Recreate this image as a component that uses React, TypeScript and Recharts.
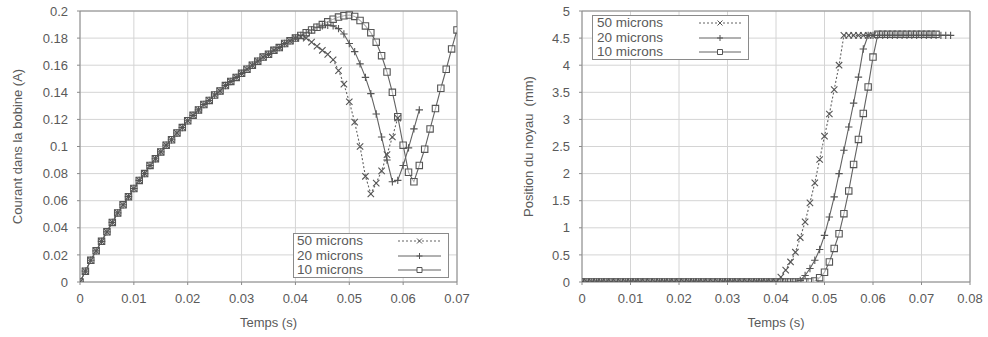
import React from 'react';
import { LineChart, Line, XAxis, YAxis, CartesianGrid, Legend, ReferenceLine } from 'recharts';

// Time grid (s)
const temps = [
  0, 0.001, 0.002, 0.003, 0.004, 0.005, 0.006, 0.007, 0.008, 0.009,
  0.01, 0.011, 0.012, 0.013, 0.014, 0.015, 0.016, 0.017, 0.018, 0.019,
  0.02, 0.021, 0.022, 0.023, 0.024, 0.025, 0.026, 0.027, 0.028, 0.029,
  0.03, 0.031, 0.032, 0.033, 0.034, 0.035, 0.036, 0.037, 0.038, 0.039,
  0.04, 0.041, 0.042, 0.043, 0.044, 0.045, 0.046, 0.047, 0.048, 0.049,
  0.05, 0.051, 0.052, 0.053, 0.054, 0.055, 0.056, 0.057, 0.058, 0.059,
  0.06, 0.061, 0.062, 0.063, 0.064, 0.065, 0.066, 0.067, 0.068, 0.069,
  0.07, 0.071, 0.072, 0.073, 0.074, 0.075, 0.076,
];

// Courant dans la bobine (A)
const courant50 = [
  0, 0.008, 0.016, 0.023, 0.030, 0.037, 0.044, 0.051, 0.057, 0.063,
  0.069, 0.075, 0.080, 0.086, 0.091, 0.096, 0.101, 0.105, 0.110, 0.114,
  0.119, 0.123, 0.127, 0.131, 0.134, 0.138, 0.141, 0.145, 0.148, 0.151,
  0.154, 0.157, 0.160, 0.163, 0.166, 0.168, 0.171, 0.173, 0.176, 0.178,
  0.180, 0.181, 0.180, 0.177, 0.174, 0.171, 0.168, 0.164, 0.156, 0.146,
  0.133, 0.118, 0.100, 0.078, 0.065, 0.073, 0.082, 0.094, 0.107, 0.121,
];
const courant20 = [
  0, 0.008, 0.016, 0.023, 0.030, 0.037, 0.044, 0.051, 0.057, 0.063,
  0.069, 0.075, 0.080, 0.086, 0.091, 0.096, 0.101, 0.105, 0.110, 0.114,
  0.119, 0.123, 0.127, 0.131, 0.134, 0.138, 0.141, 0.145, 0.148, 0.151,
  0.154, 0.157, 0.160, 0.163, 0.166, 0.168, 0.171, 0.173, 0.176, 0.178,
  0.180, 0.182, 0.184, 0.186, 0.188, 0.189, 0.1895, 0.189, 0.187, 0.183,
  0.176, 0.170, 0.161, 0.151, 0.139, 0.124, 0.107, 0.090, 0.074, 0.075,
  0.086, 0.099, 0.113, 0.127,
];
const courant10 = [
  0, 0.008, 0.016, 0.023, 0.030, 0.037, 0.044, 0.051, 0.057, 0.063,
  0.069, 0.075, 0.080, 0.086, 0.091, 0.096, 0.101, 0.105, 0.110, 0.114,
  0.119, 0.123, 0.127, 0.131, 0.134, 0.138, 0.141, 0.145, 0.148, 0.151,
  0.154, 0.157, 0.160, 0.163, 0.166, 0.168, 0.171, 0.173, 0.176, 0.178,
  0.180, 0.182, 0.184, 0.186, 0.188, 0.190, 0.192, 0.194, 0.1955, 0.1965,
  0.197, 0.196, 0.193, 0.189, 0.184, 0.177, 0.167, 0.155, 0.140, 0.122,
  0.101, 0.081, 0.074, 0.086, 0.098, 0.113, 0.128, 0.143, 0.157, 0.172,
  0.186,
];

// Position du noyau (mm)
const position50 = [
  0, 0, 0, 0, 0, 0, 0, 0, 0, 0,
  0, 0, 0, 0, 0, 0, 0, 0, 0, 0,
  0, 0, 0, 0, 0, 0, 0, 0, 0, 0,
  0, 0, 0, 0, 0, 0, 0, 0, 0, 0,
  0, 0.09, 0.22, 0.37, 0.55, 0.82, 1.11, 1.46, 1.83, 2.26,
  2.69, 3.10, 3.55, 4.00, 4.55, 4.55, 4.55, 4.55, 4.55, 4.55,
  4.55,
];
const position20 = [
  0, 0, 0, 0, 0, 0, 0, 0, 0, 0,
  0, 0, 0, 0, 0, 0, 0, 0, 0, 0,
  0, 0, 0, 0, 0, 0, 0, 0, 0, 0,
  0, 0, 0, 0, 0, 0, 0, 0, 0, 0,
  0, 0, 0, 0, 0, 0.03, 0.12, 0.25, 0.40, 0.60,
  0.86, 1.20, 1.57, 2.00, 2.43, 2.86, 3.30, 3.78, 4.30, 4.55,
  4.55, 4.55, 4.55, 4.55, 4.55, 4.55, 4.55, 4.55, 4.55, 4.55,
  4.55, 4.55, 4.55, 4.55, 4.55, 4.55, 4.55,
];
const position10 = [
  0, 0, 0, 0, 0, 0, 0, 0, 0, 0,
  0, 0, 0, 0, 0, 0, 0, 0, 0, 0,
  0, 0, 0, 0, 0, 0, 0, 0, 0, 0,
  0, 0, 0, 0, 0, 0, 0, 0, 0, 0,
  0, 0, 0, 0, 0, 0, 0, 0, 0.02, 0.08,
  0.18, 0.37, 0.62, 0.89, 1.26, 1.68, 2.17, 2.63, 3.11, 3.60,
  4.15, 4.57, 4.57, 4.57, 4.57, 4.57, 4.57, 4.57, 4.57, 4.57,
  4.57, 4.57, 4.57, 4.57,
];

const seriesNames = ['50 microns', '20 microns', '10 microns'];
const courantXTicks = [0, 0.01, 0.02, 0.03, 0.04, 0.05, 0.06, 0.07];
const courantYTicks = [0, 0.02, 0.04, 0.06, 0.08, 0.1, 0.12, 0.14, 0.16, 0.18, 0.2];
const positionXTicks = [0, 0.01, 0.02, 0.03, 0.04, 0.05, 0.06, 0.07, 0.08];
const positionYTicks = [0, 0.5, 1, 1.5, 2, 2.5, 3, 3.5, 4, 4.5, 5];

const toPoints = (vals: number[]) => vals.map((v, i) => ({ t: temps[i], v }));

const FONT = '"Liberation Sans", Arial, Helvetica, sans-serif';
const TEXT = '#5a5a5a';
const LINE = '#626262';
const MARK = '#555';
const GRID = '#d4d4d4';
const FRAME = '#8a8a8a';

const fmt = (v: number) => String(Number(v.toFixed(3)));

type Kind = 'cross' | 'plus' | 'square';
const kinds: Kind[] = ['cross', 'plus', 'square'];

function markerPath(kind: Kind, cx: number, cy: number, s: number) {
  if (kind === 'cross') return `M${cx - s},${cy - s}L${cx + s},${cy + s}M${cx - s},${cy + s}L${cx + s},${cy - s}`;
  if (kind === 'plus') return `M${cx - s - 0.5},${cy}L${cx + s + 0.5},${cy}M${cx},${cy - s - 0.5}L${cx},${cy + s + 0.5}`;
  return `M${cx - s},${cy - s}L${cx + s},${cy - s}L${cx + s},${cy + s}L${cx - s},${cy + s}Z`;
}

const makeDot = (kind: Kind) => (props: any) => {
  const { cx, cy, index } = props;
  if (cx == null || cy == null || isNaN(cx) || isNaN(cy)) return <g key={`d-${index}`} />;
  return (
    <path
      key={`d-${index}`}
      d={markerPath(kind, cx, cy, 3.2)}
      stroke={MARK}
      strokeWidth={1.1}
      fill={kind === 'square' ? '#ffffff' : 'none'}
      fillOpacity={kind === 'square' ? 0.5 : 0}
    />
  );
};

function LegendBox({ textWidth, sampleWidth, padLeft }: { textWidth: number; sampleWidth: number; padLeft: number }) {
  return (
    <div
      style={{
        border: `1px solid ${FRAME}`,
        background: '#fff',
        boxSizing: 'border-box',
        paddingLeft: padLeft,
        paddingTop: 0,
        fontFamily: FONT,
        fontSize: 13.5,
        color: TEXT,
        lineHeight: '14.5px',
        width: padLeft + textWidth + sampleWidth + 9,
        height: 45,
      }}
    >
      {seriesNames.map((name, i) => (
        <div key={name} style={{ display: 'flex', alignItems: 'center', height: 14.5 }}>
          <span style={{ width: textWidth, whiteSpace: 'nowrap' }}>{name}</span>
          <svg width={sampleWidth} height={10} style={{ display: 'block' }}>
            <line
              x1={0}
              y1={5}
              x2={sampleWidth}
              y2={5}
              stroke={LINE}
              strokeWidth={1}
              strokeDasharray={i === 0 ? '2 2' : undefined}
            />
            <path
              d={markerPath(kinds[i], sampleWidth / 2, 5, 2.5)}
              stroke={MARK}
              strokeWidth={1}
              fill={kinds[i] === 'square' ? '#fff' : 'none'}
            />
          </svg>
        </div>
      ))}
    </div>
  );
}

const tickStyle = { fill: TEXT, fontSize: 13, fontFamily: FONT };
const labelStyle = { fill: TEXT, fontSize: 13, fontFamily: FONT, textAnchor: 'middle' as const };

function CourantChart() {
  return (
    <LineChart width={470} height={337} margin={{ top: 11, right: 13, bottom: 5, left: 0 }}>
      <CartesianGrid stroke={GRID} />
      <XAxis
        type="number"
        dataKey="t"
        domain={[0, 0.07]}
        ticks={courantXTicks}
        tickFormatter={fmt}
        allowDataOverflow
        height={50}
        tickSize={3}
        tickMargin={9}
        stroke={FRAME}
        tick={tickStyle}
        label={{ value: 'Temps (s)', position: 'insideBottom', offset: 5, style: labelStyle }}
      />
      <YAxis
        type="number"
        dataKey="v"
        domain={[0, 0.2]}
        ticks={courantYTicks}
        tickFormatter={fmt}
        allowDataOverflow
        width={80}
        tickSize={3}
        tickMargin={9}
        stroke={FRAME}
        tick={tickStyle}
        label={{ value: 'Courant dans la bobine (A)', angle: -90, position: 'insideLeft', offset: 17, style: labelStyle }}
      />
      <ReferenceLine y={0.2} stroke={FRAME} />
      <ReferenceLine x={0.07} stroke={FRAME} />
      <Line data={toPoints(courant10)} dataKey="v" name={seriesNames[2]} stroke={LINE} strokeWidth={1.1} dot={makeDot('square')} isAnimationActive={false} />
      <Line data={toPoints(courant20)} dataKey="v" name={seriesNames[1]} stroke={LINE} strokeWidth={1.1} dot={makeDot('plus')} isAnimationActive={false} />
      <Line data={toPoints(courant50)} dataKey="v" name={seriesNames[0]} stroke={LINE} strokeWidth={1.1} strokeDasharray="2 2" dot={makeDot('cross')} isAnimationActive={false} />
      <Legend
        layout="vertical"
        align="center"
        verticalAlign="middle"
        wrapperStyle={{ left: 293, top: 233, width: 'auto', height: 'auto' }}
        content={() => <LegendBox textWidth={101} sampleWidth={43} padLeft={3} />}
      />
    </LineChart>
  );
}

function PositionChart() {
  return (
    <LineChart width={508} height={337} margin={{ top: 11, right: 18, bottom: 5, left: 0 }}>
      <CartesianGrid stroke={GRID} />
      <XAxis
        type="number"
        dataKey="t"
        domain={[0, 0.08]}
        ticks={positionXTicks}
        tickFormatter={fmt}
        allowDataOverflow
        height={50}
        tickSize={3}
        tickMargin={9}
        stroke={FRAME}
        tick={tickStyle}
        label={{ value: 'Temps (s)', position: 'insideBottom', offset: 5, style: labelStyle }}
      />
      <YAxis
        type="number"
        dataKey="v"
        domain={[0, 5]}
        ticks={positionYTicks}
        tickFormatter={fmt}
        allowDataOverflow
        width={102}
        tickSize={3}
        tickMargin={9}
        stroke={FRAME}
        tick={tickStyle}
        label={{ value: 'Position du noyau\u00a0 (mm)', angle: -90, position: 'insideLeft', offset: 48, style: labelStyle }}
      />
      <ReferenceLine y={5} stroke={FRAME} />
      <ReferenceLine x={0.08} stroke={FRAME} />
      <Line data={toPoints(position10)} dataKey="v" name={seriesNames[2]} stroke={LINE} strokeWidth={1.1} dot={makeDot('square')} isAnimationActive={false} />
      <Line data={toPoints(position20)} dataKey="v" name={seriesNames[1]} stroke={LINE} strokeWidth={1.1} dot={makeDot('plus')} isAnimationActive={false} />
      <Line data={toPoints(position50)} dataKey="v" name={seriesNames[0]} stroke={LINE} strokeWidth={1.1} strokeDasharray="2 2" dot={makeDot('cross')} isAnimationActive={false} />
      <Legend
        layout="vertical"
        align="center"
        verticalAlign="middle"
        wrapperStyle={{ left: 112, top: 15, width: 'auto', height: 'auto' }}
        content={() => <LegendBox textWidth={102} sampleWidth={42} padLeft={4} />}
      />
    </LineChart>
  );
}

export default function App() {
  return (
    <div style={{ position: 'absolute', left: 0, top: 0, width: 988, height: 337, background: '#fff', fontFamily: FONT }}>
      <div style={{ position: 'absolute', left: 0, top: 0 }}>
        <CourantChart />
      </div>
      <div style={{ position: 'absolute', left: 480, top: 0 }}>
        <PositionChart />
      </div>
    </div>
  );
}
